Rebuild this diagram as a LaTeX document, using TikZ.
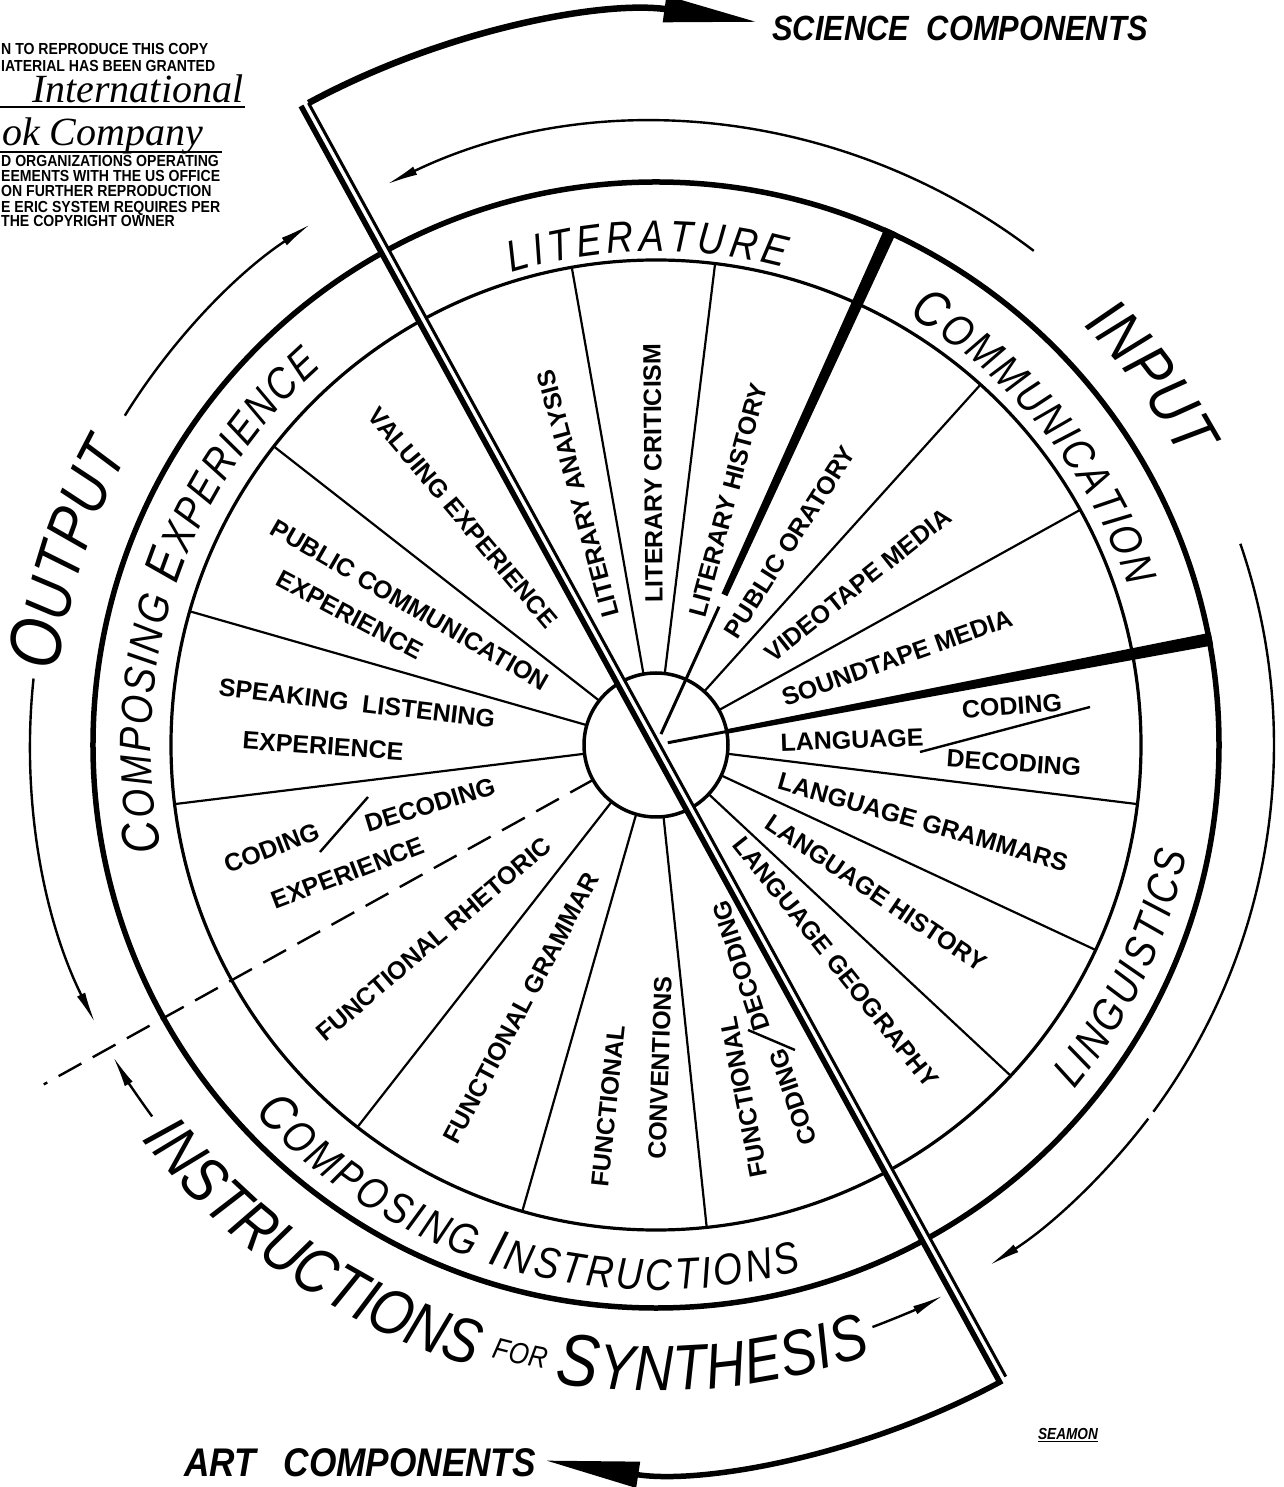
\documentclass[tikz,border=0pt]{standalone}
\usepackage{fontspec}
\usepackage{tikz}
\usetikzlibrary{arrows.meta,calc,decorations.text}

\newfontfamily\handfam[FakeStretch=0.85]{Liberation Sans}
\newfontfamily\boldfam{Liberation Sans}
\newfontfamily\compfam[FakeStretch=0.88]{Liberation Sans}
\newfontfamily\stampfam[FakeStretch=0.88]{Liberation Sans}
\newfontfamily\penfam{Liberation Serif}

\newcommand\ringfont{\handfam\itshape\fontsize{44}{44}\selectfont}
\newcommand\ringcap{\handfam\itshape\fontsize{52}{52}\selectfont}
\newcommand\outfont{\handfam\itshape\fontsize{64}{64}\selectfont}
\newcommand\outcap{\handfam\itshape\fontsize{74}{74}\selectfont}
\newcommand\forfont{\handfam\itshape\fontsize{30}{30}\selectfont}
\newcommand\spokefont{\boldfam\bfseries\fontsize{25}{25}\selectfont}
\newcommand\scifont{\compfam\bfseries\itshape\fontsize{35}{35}\selectfont}
\newcommand\artfont{\compfam\bfseries\itshape\fontsize{40}{40}\selectfont}
\newcommand\stampfont{\stampfam\bfseries\fontsize{16}{16}\selectfont}
\newcommand\penfont{\penfam\itshape\fontsize{40}{40}\selectfont}
\newcommand\signfont{\handfam\bfseries\itshape\fontsize{16}{16}\selectfont}

\begin{document}
\begin{tikzpicture}[x=1pt,y=1pt,line join=miter,
  spokeline/.style={line width=2.2pt},
  lbl/.style={font=\spokefont,inner sep=0pt},
  stamp/.style={font=\stampfont,inner sep=0pt,anchor=base west},
  ringtext/.style={decorate,decoration={text along path,text align={fit to path},text={#1}}},
  outarc/.style={line width=2.4pt,-{Latex[length=32pt,width=9pt]}},
  bigarrow/.style={-{Triangle[length=94pt,width=25pt]}}]
  \fill[white] (-656,-742) rectangle (627,745);
  \useasboundingbox (-656,-742) rectangle (627,745);

  \node[circle,draw,line width=3.5pt,minimum size=144pt,inner sep=0pt,outer sep=0pt] (hub) at (0,0) {};
  \draw[line width=3.2pt] (0,0) circle[radius=485];
  \draw[line width=5.5pt] (0,0) circle[radius=563];

  \foreach \a in {100,83,48,29,353,335,317,276,254,232,187,164,142}
    \draw[spokeline] (hub.\a) -- (\a:485);
  \draw[line width=2.4pt,dash pattern=on 26pt off 13pt] (hub.209) -- (209:700);

  \draw[line width=3pt] (65.5:12) -- (65.5:152);
  \fill ($(65.5:165)+(155.5:3.2)$) -- ($(65.5:566)+(155.5:6.2)$)
     -- ($(65.5:566)+(-24.5:6.2)$) -- ($(65.5:165)+(-24.5:3.2)$) -- cycle;
  \draw[line width=3pt] (10.8:12) -- (10.8:72);
  \fill ($(10.8:72)+(100.8:2.3)$) -- ($(10.8:566)+(100.8:6.5)$)
     -- ($(10.8:566)+(-79.2:6.5)$) -- ($(10.8:72)+(-79.2:2.3)$) -- cycle;

  \draw[outarc] (52.6:622) arc[start angle=52.6,end angle=115.7,radius=622];
  \draw[outarc] (148.2:625) arc[start angle=148.2,end angle=123.5,radius=625];
  \draw[outarc] (173.9:626) arc[start angle=173.9,end angle=206.4,radius=626];
  \draw[outarc] (216.4:626) arc[start angle=216.4,end angle=209.8,radius=626];
  \draw[line width=2.4pt] (19:618) arc[start angle=19,end angle=-36.4,radius=618];
  \draw[outarc] (-37.2:618) arc[start angle=-37.2,end angle=-57.4,radius=618];
  \draw[outarc] (290.4:621) arc[start angle=290.4,end angle=297.6,radius=621];

  \path[ringtext={|\ringfont|LITERATURE}] (107:494) arc[start angle=107,end angle=75,radius=494];
  \path[ringtext={|\ringcap|C|\ringfont|OMMUNICATION}] (59.5:498) arc[start angle=59.5,end angle=18.5,radius=498];
  \path[ringtext={|\ringfont|LINGUISTICS}] (-39.5:542) arc[start angle=-39.5,end angle=-11.5,radius=542];
  \path[ringtext={|\ringcap|C|\ringfont|OMPOSING |\ringcap|I|\ringfont|NSTRUCTIONS}] (222.5:545) arc[start angle=222.5,end angle=285.5,radius=545];
  \path[ringtext={|\ringcap|C|\ringfont|OMPOSING |\ringcap|E|\ringfont|XPERIENCE}] (192:505) arc[start angle=192,end angle=131.5,radius=505];
  \path[ringtext={|\outfont|INPUT}] (44.5:599) arc[start angle=44.5,end angle=28.5,radius=599];
  \path[ringtext={|\outcap|O|\outfont|UTPUT}] (173:602) arc[start angle=173,end angle=151,radius=602];
  \path[ringtext={|\outfont|INSTRUCTIONS}] (217.5:648) arc[start angle=217.5,end angle=253.5,radius=648];
  \path[ringtext={|\forfont|FOR}] (255:634) arc[start angle=255,end angle=260,radius=634];
  \path[ringtext={|\outcap|S|\outfont|YNTHESIS}] (261:646) arc[start angle=261,end angle=289.5,radius=646];

  \node[lbl,rotate=105] (litana) at (-78,251) {LITERARY ANALYSIS};
  \node[lbl,rotate=90.5] (litcrit) at (-3,272) {LITERARY CRITICISM};
  \node[lbl,rotate=75] (lithist) at (72,245) {LITERARY HISTORY};
  \node[lbl,rotate=57.5] (pubor) at (134,203) {PUBLIC ORATORY};
  \node[lbl,rotate=38.5] (video) at (202,160) {VIDEOTAPE MEDIA};
  \node[lbl,rotate=19.5] (sound) at (241,87) {SOUNDTAPE MEDIA};
  \node[lbl,rotate=2] (lang) at (196,5) {LANGUAGE};
  \node[lbl,rotate=4] (langcod) at (356,39) {CODING};
  \node[lbl,rotate=-4] (langdec) at (358,-18) {DECODING};
  \node[lbl,rotate=-16] (langgram) at (267,-77) {LANGUAGE GRAMMARS};
  \node[lbl,rotate=-34] (langhist) at (220,-148) {LANGUAGE HISTORY};
  \node[lbl,rotate=-51.5] (langgeo) at (180,-217) {LANGUAGE GEOGRAPHY};
  \node[lbl,rotate=101] (funcod) at (88,-352) {FUNCTIONAL};
  \node[lbl,rotate=109] (fcod) at (137,-352) {CODING};
  \node[lbl,rotate=108] (fdec) at (85,-221) {DECODING};
  \node[lbl,rotate=84] (funconv) at (-48,-361) {FUNCTIONAL};
  \node[lbl,rotate=88] (conv) at (4,-323) {CONVENTIONS};
  \node[lbl,rotate=62] (fgram) at (-135,-263) {FUNCTIONAL GRAMMAR};
  \node[lbl,rotate=40.5] (frhet) at (-222,-194) {FUNCTIONAL RHETORIC};
  \node[lbl,rotate=21] (ecod) at (-384,-103) {CODING};
  \node[lbl,rotate=17] (edec) at (-226,-60) {DECODING};
  \node[lbl,rotate=21] (ecodexp) at (-308,-128) {EXPERIENCE};
  \node[lbl,rotate=-6.8] (speak) at (-299,42) {SPEAKING~~LISTENING};
  \node[lbl,rotate=-4] (speakexp) at (-333,-1) {EXPERIENCE};
  \node[lbl,rotate=-30] (pubcom) at (-246,140) {PUBLIC COMMUNICATION};
  \node[lbl,rotate=-28] (pubexp) at (-306,130) {EXPERIENCE};
  \node[lbl,rotate=-50] (valexp) at (-193,227) {VALUING EXPERIENCE};
  \draw[line width=2.4pt] (264,-7) -- (434,38);
  \draw[line width=2.4pt] (-336,-107) -- (-288,-52);
  \draw[line width=2.4pt] (139,-305) -- (92,-285);

  \coordinate (atop) at ($(118.7:731)+(208.7:4.5)$);
  \coordinate (abot) at ($(298.7:724)+(208.7:4.5)$);
  \coordinate (btop) at ($(118.7:730)+(28.7:3.5)$);
  \coordinate (bbot) at ($(298.7:722)+(28.7:3.5)$);
  \draw[white,line width=9pt] (118.7:731) -- (298.7:724);
  \draw[line width=3pt] (bbot) -- (btop);
  \draw[bigarrow,line width=6.5pt] (btop) arc[start angle=118.43,end angle=82,radius=730];
  \draw[bigarrow,line width=5.5pt] (atop) -- (abot) arc[start angle=298.34,end angle=261.2,radius=724];

  \node[font=\scifont,inner sep=0pt] (sci) at (304,717) {SCIENCE\enspace COMPONENTS};
  \node[font=\artfont,inner sep=0pt] (art) at (-296,-718) {ART\hspace{28pt}COMPONENTS};
  \node[font=\signfont,inner sep=0pt] (sign) at (412,-690) {\underline{SEAMON}};

  \node[stamp] (st1) at (-655,690) {N TO REPRODUCE THIS COPY};
  \node[stamp] (st2) at (-655,673) {IATERIAL HAS BEEN GRANTED};
  \node[font=\penfont,inner sep=0pt,anchor=base west] (pen1) at (-624,642) {International};
  \draw[line width=2pt] (-656,638) -- (-411,638);
  \node[font=\penfont,inner sep=0pt,anchor=base west] (pen2) at (-654,599) {ok Company};
  \draw[line width=2pt] (-656,593) -- (-434,593);
  \node[stamp] (st3) at (-655,578) {D ORGANIZATIONS OPERATING};
  \node[stamp] (st4) at (-655,563) {EEMENTS WITH THE US OFFICE};
  \node[stamp] (st5) at (-655,548) {ON FURTHER REPRODUCTION};
  \node[stamp] (st6) at (-655,532) {E ERIC SYSTEM REQUIRES PER};
  \node[stamp] (st7) at (-655,518) {THE COPYRIGHT OWNER};
\end{tikzpicture}
\end{document}
